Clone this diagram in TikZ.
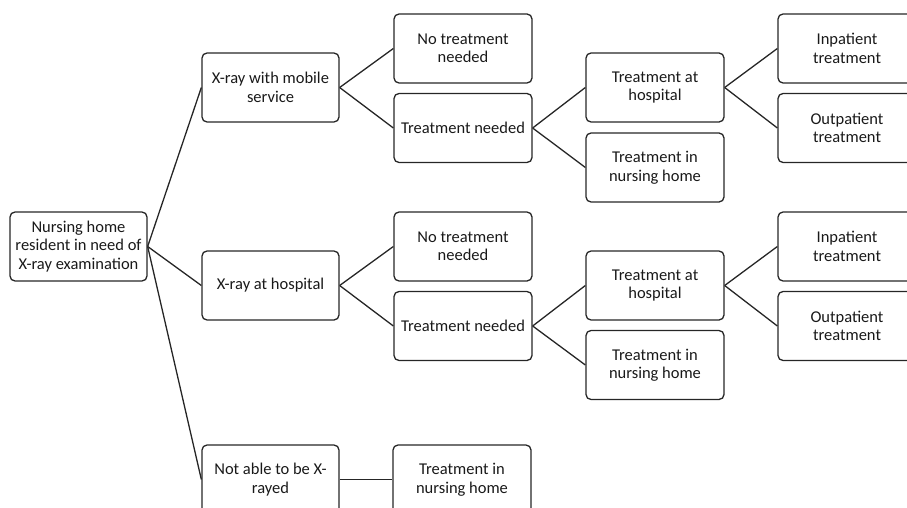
\documentclass[tikz,border=0pt]{standalone}
\usepackage{fontspec}
\setmainfont{Carlito}
\begin{document}
\begin{tikzpicture}[x=1pt,y=-1pt,
  box/.style={draw=black!85, line width=1.3pt, rounded corners=5pt, minimum width=137pt, minimum height=69pt, inner sep=2pt, align=center, font=\fontsize{16.5}{18.5}\selectfont, text=black!90},
  link/.style={draw=black!85, line width=1.3pt}]
\useasboundingbox (0,0) rectangle (907,508);
\clip (0,0) rectangle (907,508);
\node[box] (root) at (78.5,246.5) {Nursing home\\resident in need of\\X-ray examination};
\node[box] (mob) at (270.5,87.5) {X-ray with mobile\\service};
\node[box] (hosp) at (270.5,285.5) {X-ray at hospital};
\node[box] (notable) at (270.5,479.5) {Not able to be X-\\rayed};
\node[box, minimum width=138pt] (nt1) at (463,48.5) {No treatment\\needed};
\node[box, minimum width=138pt] (tn1) at (463,128) {Treatment needed};
\node[box, minimum width=138pt] (ah1) at (655,87.5) {Treatment at\\hospital};
\node[box, minimum width=138pt] (nh1) at (655,167.5) {Treatment in\\nursing home};
\node[box, minimum width=138pt] (ip1) at (847,48.5) {Inpatient\\treatment};
\node[box, minimum width=138pt] (op1) at (847,128) {Outpatient\\treatment};
\node[box, minimum width=138pt] (nt2) at (463,246.5) {No treatment\\needed};
\node[box, minimum width=138pt] (tn2) at (463,326) {Treatment needed};
\node[box, minimum width=138pt] (ah2) at (655,285.5) {Treatment at\\hospital};
\node[box, minimum width=138pt] (nh2) at (655,365) {Treatment in\\nursing home};
\node[box, minimum width=138pt] (ip2) at (847,246.5) {Inpatient\\treatment};
\node[box, minimum width=138pt] (op2) at (847,326) {Outpatient\\treatment};
\node[box, minimum width=138pt] (nh3) at (462,479.5) {Treatment in\\nursing home};
\draw[link] (root.east) -- (mob.west);
\draw[link] (root.east) -- (hosp.west);
\draw[link] (root.east) -- (notable.west);
\draw[link] (mob.east) -- (nt1.west);
\draw[link] (mob.east) -- (tn1.west);
\draw[link] (tn1.east) -- (ah1.west);
\draw[link] (tn1.east) -- (nh1.west);
\draw[link] (ah1.east) -- (ip1.west);
\draw[link] (ah1.east) -- (op1.west);
\draw[link] (hosp.east) -- (nt2.west);
\draw[link] (hosp.east) -- (tn2.west);
\draw[link] (tn2.east) -- (ah2.west);
\draw[link] (tn2.east) -- (nh2.west);
\draw[link] (ah2.east) -- (ip2.west);
\draw[link] (ah2.east) -- (op2.west);
\draw[link] (notable.east) -- (nh3.west);
\end{tikzpicture}
\end{document}
